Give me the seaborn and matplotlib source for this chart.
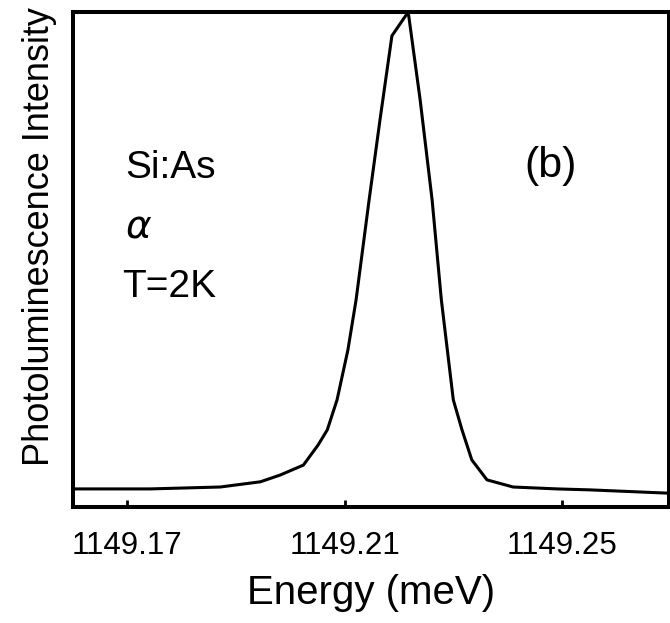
import matplotlib
matplotlib.use("Agg")
import matplotlib.pyplot as plt
import seaborn as sns
import pandas as pd

# Data
energy = [1149.1601, 1149.1742, 1149.1871, 1149.1945, 1149.1981, 1149.2024,
          1149.2051, 1149.2068, 1149.2086, 1149.2106, 1149.2121, 1149.2145,
          1149.2165, 1149.2187, 1149.2217, 1149.2239, 1149.2261, 1149.2278,
          1149.2289, 1149.2300, 1149.2316, 1149.2334, 1149.2362, 1149.2410,
          1149.2491, 1149.2551, 1149.2697]
intensity = [-0.002, -0.002, 0.002, 0.013, 0.027, 0.048,
             0.090, 0.122, 0.185, 0.290, 0.395, 0.605,
             0.773, 0.950, 1.000, 0.815, 0.605, 0.395,
             0.290, 0.185, 0.122, 0.059, 0.017, 0.002,
             -0.002, -0.004, -0.011]
xticks = [1149.17, 1149.21, 1149.25]
xtick_labels = ["1149.17", "1149.21", "1149.25"]

sns.set_style("white")
plt.rcParams['font.family'] = ['Liberation Sans', 'DejaVu Sans']
plt.rcParams['text.color'] = 'black'
plt.rcParams['axes.labelcolor'] = 'black'
plt.rcParams['xtick.color'] = 'black'
plt.rcParams['mathtext.fontset'] = 'dejavusans'

df = pd.DataFrame({"Energy": energy, "Intensity": intensity})

fig = plt.figure(figsize=(6.7, 6.23), dpi=100)
ax = fig.add_axes([73/670, 1 - 507/623, (669 - 73)/670, (507 - 12)/623])

sns.lineplot(data=df, x="Energy", y="Intensity", ax=ax, color="black",
             linewidth=2.2, sort=False, estimator=None)

ax.set_xlim(1149.160, 1149.2697)
ax.set_ylim(-0.04, 1.0)

for s in ax.spines.values():
    s.set_linewidth(2.9)
    s.set_color("black")

ax.set_xticks(xticks)
ax.set_xticklabels(xtick_labels, fontsize=22.5, color='black')
ax.tick_params(axis='x', direction='in', length=5, width=2, pad=17, colors='black',
               bottom=True, top=False)
ax.set_yticks([])
ax.set_xlabel("Energy (meV)", fontsize=29, labelpad=10, color='black')
ax.set_ylabel("")

fig.text(40/670, 1 - 236/623, "Photoluminescence Intensity", rotation=90,
         ha='center', va='center', fontsize=26, color='black')

tkw = dict(fontsize=28, ha='left', va='baseline', color='black')
fig.text(125/670, 1 - 178/623, "Si:As", **tkw)
fig.text(125/670, 1 - 238/623, "$\\alpha$", **tkw)
fig.text(122/670, 1 - 297/623, "T=2K", **tkw)
fig.text(551/670, 1 - 166/623, "(b)", fontsize=31, ha='center', va='center',
         color='black')

fig.savefig("out.png", dpi=100)
